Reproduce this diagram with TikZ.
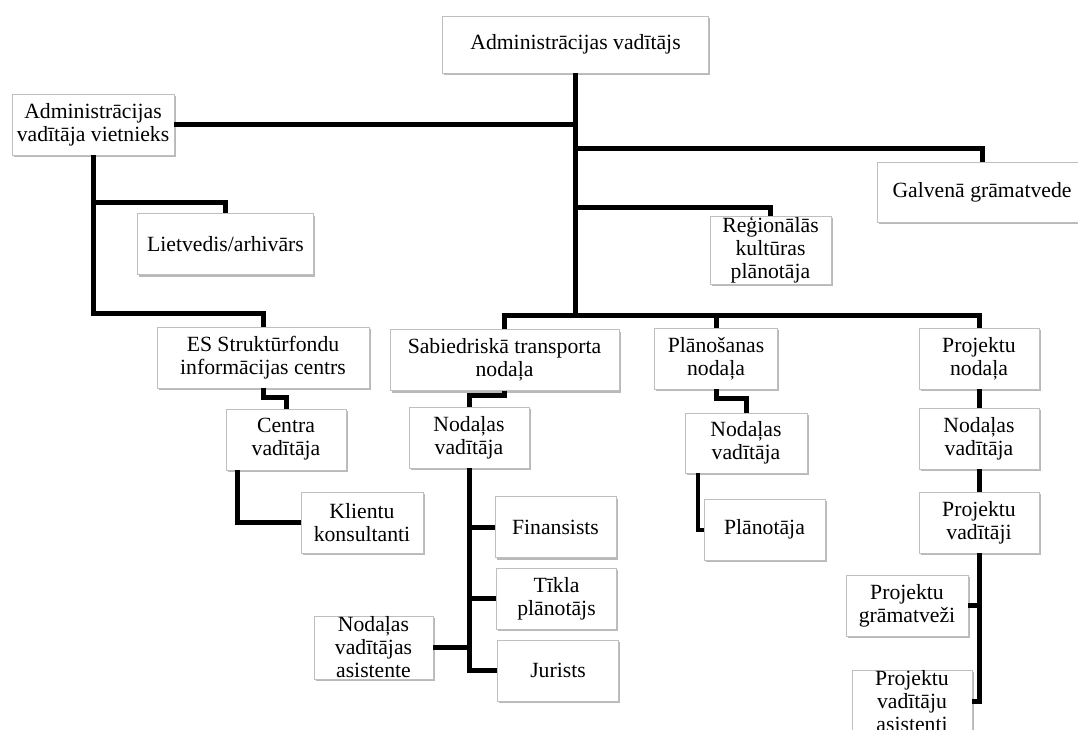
\documentclass[tikz,border=0pt]{standalone}
\usepackage{fontspec}
\setmainfont{Liberation Serif}
\usetikzlibrary{positioning,shadows}

\begin{document}
\begin{tikzpicture}[x=1pt, y=-1pt,
                    every node/.append style = {font=\fontsize{21.7}{23}\selectfont},
                    box/.style = {draw=gray!50, line width=0.6pt, fill=white, align=center,
                                  inner sep=1pt, minimum width=#1, minimum height=61pt,
                                  drop shadow={shadow xshift=1.5pt, shadow yshift=-2pt,
                                               fill=black!55, opacity=0.5}},
                    box/.default = 120pt,
                    link/.style = {line width=5pt}]
                \useasboundingbox (0,0) rectangle (1078,729);
                \clip (0,0) rectangle (1078,729);
                \node[box=266pt, minimum height=57pt] (top) at (575.5,44.5) {Administrācijas vadītājs};
                \node[box=162pt] (dep) at (93,124.5) {Administrācijas\\vadītāja vietnieks};
                \node[box=210pt, minimum height=60pt] (galv) at (982,192) {Galvenā grāmatvede};
                \node[box=121pt, minimum height=60pt] (reg) at (770.5,250) {Reģionālās\\kultūras\\plānotāja};
                \node[box=176pt] (liet) at (225.5,244) {Lietvedis/arhivārs};
                \node[box=212pt] (es) at (263,357.5) {ES Struktūrfondu\\informācijas centrs};
                \node[box] (centra) at (286,439.5) {Centra\\vadītāja};
                \node[box=122pt] (klient) at (362,522.5) {Klientu\\konsultanti};
                \node[box=229pt] (sab) at (504.5,360) {Sabiedriskā transporta\\nodaļa};
                \node[box] (nv1) at (469,437.5) {Nodaļas\\vadītāja};
                \node[box=121pt] (fin) at (555.5,527) {Finansists};
                \node[box] (tikla) at (556.5,598.5) {Tīkla\\plānotājs};
                \node[box=121pt] (jur) at (558,670.5) {Jurists};
                \node[box=119pt] (nva) at (373.5,647.5) {Nodaļas\\vadītājas\\asistente};
                \node[box=123pt] (plan) at (716,358.5) {Plānošanas\\nodaļa};
                \node[box=122pt, minimum height=60pt] (nv2) at (746,443) {Nodaļas\\vadītāja};
                \node[box=121pt] (plnt) at (764.5,529.5) {Plānotāja};
                \node[box] (projn) at (979,358.5) {Projektu\\nodaļa};
                \node[box] (nv3) at (979,438.5) {Nodaļas\\vadītāja};
                \node[box] (pv) at (979,522.5) {Projektu\\vadītāji};
                \node[box=122pt] (pg) at (907,605.5) {Projektu\\grāmatveži};
                \node[box] (pva) at (912,701.5) {Projektu\\vadītāju\\asistenti};
                \coordinate (bus) at (575.5,315);
                \draw[link] (top.south) -- (bus);
                \draw[link] (sab.north) |- (bus) -| (projn.north);
                \draw[link] (bus -| plan.north) -- (plan.north);
                \draw[link] (dep.east) -- (dep.east -| bus);
                \draw[link] (bus |- 0,148) -| (galv.north);
                \draw[link] (bus |- 0,207) -| (reg.north);
                \draw[link] (dep.south |- 0,202) -| (liet.north);
                \draw[link] (dep.south) -- (dep.south |- 0,313) -| (es.north);
                \draw[link] (es.south) -- ++(0,9) -| (centra.north);
                \draw[link] ([xshift=-49pt]centra.south) |- (klient.west);
                \draw[link] (sab.south) -- ++(0,5) -| (nv1.north);
                \draw[link] (nv1.south) |- (jur.west);
                \draw[link] (nv1.south |- fin.west) -- (fin.west);
                \draw[link] (nv1.south |- tikla.west) -- (tikla.west);
                \draw[link] (nva.east) -- (nva.east -| nv1.south);
                \draw[link] (plan.south) -- ++(0,9) -| (nv2.north);
                \draw[link, line width=4pt] ([xshift=-48pt]nv2.south) |- (plnt.west);
                \draw[link] (projn.south) -- (nv3.north);
                \draw[link] (nv3.south) -- (pv.north);
                \draw[link] (pv.south) |- (pva.east);
                \draw[link] (pg.east) -- (pg.east -| pv.south);
                \end{tikzpicture}
\end{document}
